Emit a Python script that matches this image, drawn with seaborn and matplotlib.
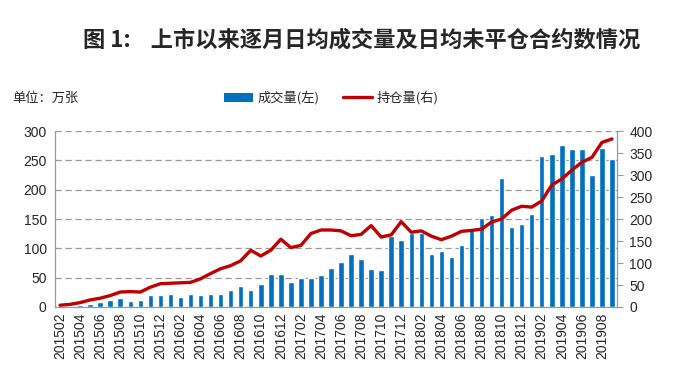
import numpy as np
import pandas as pd
import matplotlib
matplotlib.use("Agg")
import matplotlib.pyplot as plt
import seaborn as sns
from matplotlib.patches import Patch
from matplotlib.lines import Line2D

# months 201502 .. 201909
months = [f"{y}{m:02d}" for y in range(2015, 2020) for m in range(1, 13)]
months = [m for m in months if "201502" <= m <= "201909"]

# daily avg volume, 10k contracts (left axis)
volume = [0.5, 1.5, 3.5, 5.7, 8.7, 12, 14.5, 10.5, 11.5, 20, 20,
          22.5, 17.5, 22.5, 20.5, 22.5, 22.5, 29.5, 35, 29, 38.5, 57, 57,
          43, 49, 49, 55, 66, 76, 91, 82, 64, 63, 121, 114,
          126, 126, 91, 95.5, 85, 106, 135, 152, 156, 220, 136, 142,
          159, 257, 261, 276, 269, 269, 225, 271, 253]

# daily avg open interest, 10k contracts (right axis)
open_interest = [4, 6, 10, 16, 20, 26, 34, 35, 34, 45, 53,
                 54, 55, 56, 64, 76, 87, 94, 105, 129, 116, 129, 154,
                 135, 140, 167, 175, 175, 173, 162, 165, 185, 159, 164, 194,
                 170, 173, 161, 153, 161, 172, 174, 177, 193, 200, 220, 229,
                 227, 241, 277, 291, 311, 329, 340, 374, 382]

df = pd.DataFrame({"month": months, "volume": volume, "oi": open_interest})
df["pos"] = np.arange(len(df))

bar_color = "#0070C0"
line_color = "#C00000"
cjk = ["Noto Sans CJK SC", "DejaVu Sans"]

sns.set_style("white")
plt.rcParams["font.family"] = ["Liberation Sans", "DejaVu Sans"]

fig = plt.figure(figsize=(6.76, 3.89), dpi=100)
ax = fig.add_axes([0.0814, 0.2108, 0.8313, 0.4524])

sns.barplot(data=df, x="month", y="volume", color=bar_color, width=0.55,
            saturation=1, ax=ax)

ax2 = ax.twinx()
sns.lineplot(data=df, x="pos", y="oi", color=line_color, linewidth=2.4, ax=ax2)

ax.set_xlim(-0.5, len(df) - 0.5)
ax.set_ylim(0, 300)
ax.set_yticks(range(0, 301, 50))
ax2.set_ylim(0, 400)
ax2.set_yticks(range(0, 401, 50))

ax.set_xticks(df["pos"][::2])
ax.set_xticklabels(df["month"][::2], rotation=90, fontsize=10)
ax.set_xticks(np.arange(-0.5, len(df), 1), minor=True)
ax.tick_params(axis="x", which="major", length=0, pad=4)
ax.tick_params(axis="x", which="minor", length=4, color="#999999", width=0.8)
ax.tick_params(axis="y", length=0, labelsize=10, pad=6)
ax2.tick_params(axis="y", length=4, color="#999999", labelsize=10, pad=5)

ax.set_xlabel("")
ax.set_ylabel("")
ax2.set_xlabel("")
ax2.set_ylabel("")

ax.yaxis.grid(True, linestyle=(0, (5, 3)), color="#999999", linewidth=0.9)
ax.set_axisbelow(True)
for s in ["left", "bottom", "right"]:
    ax.spines[s].set_color("#999999")
    ax2.spines[s].set_color("#999999")
ax.spines["top"].set_visible(False)
ax2.spines["top"].set_visible(False)

fig.text(0.535, 0.897, "图 1:    上市以来逐月日均成交量及日均未平仓合约数情况",
         ha="center", va="center", fontsize=16, fontweight="bold", family=cjk)
fig.text(0.018, 0.748, "单位：万张", ha="left", va="center", fontsize=9.5, family=cjk)

handles = [Patch(facecolor=bar_color, edgecolor="none"),
           Line2D([], [], color=line_color, linewidth=2.4)]
fig.legend(handles, ["成交量(左)", "持仓量(右)"], loc="center", ncol=2,
           bbox_to_anchor=(0.49, 0.748), frameon=False,
           prop={"family": cjk, "size": 9.5}, handlelength=2.2,
           handletextpad=0.3, columnspacing=1.8)

fig.savefig("out.png", dpi=100, facecolor="white")
